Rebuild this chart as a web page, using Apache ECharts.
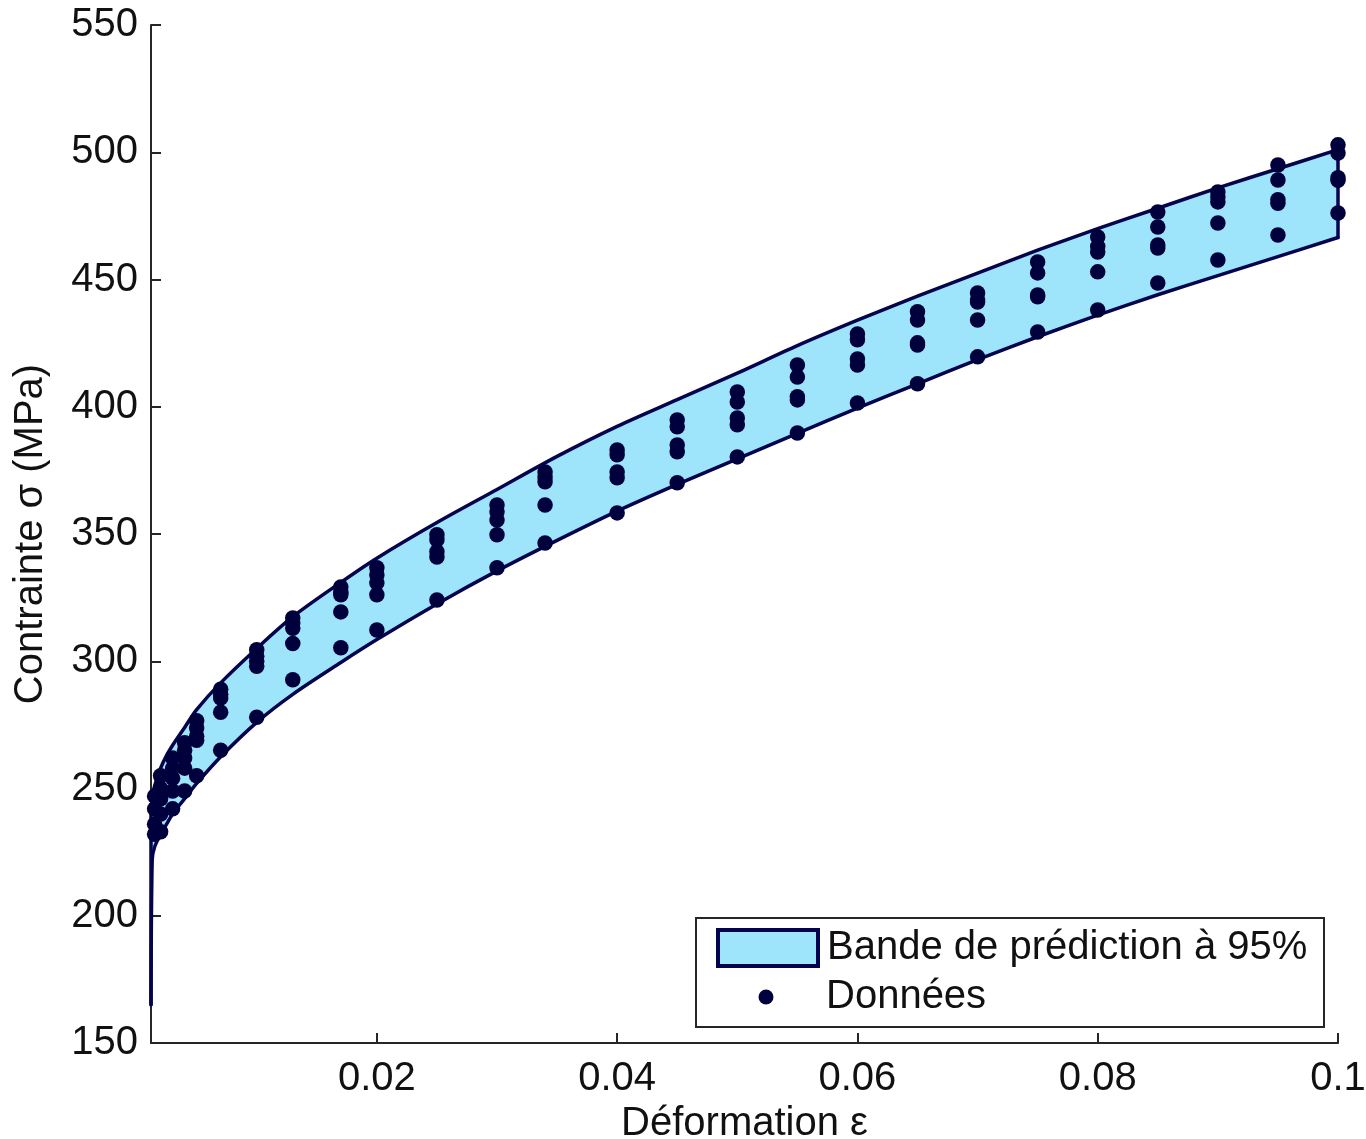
<!DOCTYPE html>
<html>
<head>
<meta charset="utf-8">
<script src="https://cdn.jsdelivr.net/npm/echarts@6/dist/echarts.min.js"></script>
<style>
  html, body { margin: 0; padding: 0; background: #ffffff; }
  #chart { width: 1366px; height: 1139px; }
</style>
</head>
<body>
<div id="chart"></div>
<script>
// Tick positions on the strain axis
const xTicks = [0.02, 0.04, 0.06, 0.08, 0.1];

// 95% prediction band: strain and the upper / lower stress limits (MPa)
const bandStrain = [0.0012, 0.0013, 0.0015, 0.002, 0.0025, 0.003, 0.004, 0.005, 0.007, 0.01, 0.013, 0.017, 0.02, 0.025, 0.03, 0.035, 0.04, 0.045, 0.05, 0.055, 0.06, 0.065, 0.07, 0.075, 0.08, 0.085, 0.09, 0.095, 0.1];
const bandUpper  = [242, 246, 251, 258, 263, 267, 274, 281, 291.5, 305, 317.5, 331, 340.5, 354.5, 367.5, 380.5, 392.3, 402.8, 413.2, 424, 434, 443.5, 452.5, 461.5, 470, 478, 486, 493.5, 501];
const bandLower  = [165, 222, 227, 232, 236, 240, 246, 252, 262.5, 276, 287, 299.5, 308.5, 322.5, 335.5, 347.5, 359, 369.5, 379.5, 389.5, 399.5, 409, 418.5, 427.5, 436, 444, 451.5, 459, 466.5];

// Measured points: strain levels and the stresses recorded at each level (MPa)
const strainLevels = [0.0015, 0.002, 0.003, 0.004, 0.005, 0.007, 0.01, 0.013, 0.017, 0.02, 0.025, 0.03, 0.034, 0.04, 0.045, 0.05, 0.055, 0.06, 0.065, 0.07, 0.075, 0.08, 0.085, 0.09, 0.095, 0.1];
const stressByLevel = [
  [247, 242, 236, 232],
  [255, 250, 246, 240, 233],
  [262, 258, 254, 249, 242],
  [268, 265, 262, 258, 249],
  [276.6, 273.8, 270.5, 269, 255],
  [289, 287, 285.6, 280, 265],
  [304.5, 302, 300, 298, 278],
  [317, 315, 313, 307, 292.7],
  [329.2, 327, 326.1, 319.4, 305.3],
  [336.7, 333.9, 330.8, 326.1, 312.3],
  [349.7, 347.7, 343, 341, 324.1],
  [361.4, 358.7, 355.5, 349.7, 336.7],
  [374.4, 372.4, 370.5, 361.4, 346.5],
  [383, 381.1, 374.4, 372.1, 358.3],
  [394.8, 392.1, 385, 382.3, 370.1],
  [405.8, 401.9, 395.6, 392.9, 380.3],
  [416.4, 411.7, 403.9, 402.7, 389.7],
  [428.6, 426.3, 418.8, 416.4, 401.5],
  [437.3, 434.1, 425.1, 424.3, 409],
  [444.7, 442, 441.2, 434.1, 419.6],
  [456.9, 452.6, 443.9, 443.2, 429.4],
  [466.7, 463, 460.8, 453, 438],
  [476.5, 470.6, 463.6, 462.4, 448.6],
  [484.4, 482.4, 480.5, 472.2, 457.7],
  [495, 489.1, 481.3, 480, 467.5],
  [502.9, 499.7, 490, 489, 476.1]
];

const scatterData = [];
strainLevels.forEach(function (e, i) {
  stressByLevel[i].forEach(function (s) { scatterData.push([e, s]); });
});

const FONT = '"Liberation Sans", Arial, Helvetica, sans-serif';
const FS = 40;
const NAVY = '#03034e';
const DOT = '#00003c';
const FILL = '#9ee4fb';
const AXIS = '#262626';
const BAND_NAME = 'Bande de prédiction à 95%';
const DATA_NAME = 'Données';

const chart = echarts.init(document.getElementById('chart'), null, { renderer: 'canvas' });

// Bounding box of a point list, used to keep the smoothed curve within its points
function bounds(points) {
  let minX = Infinity, minY = Infinity, maxX = -Infinity, maxY = -Infinity;
  points.forEach(function (p) {
    minX = Math.min(minX, p[0]); minY = Math.min(minY, p[1]);
    maxX = Math.max(maxX, p[0]); maxY = Math.max(maxY, p[1]);
  });
  return [[minX, minY], [maxX, maxY]];
}

// Band: filled area between the limits, the two limit curves, and the end edges
function renderBand(params, api) {
  const upper = bandStrain.map(function (e, i) { return api.coord([e, bandUpper[i]]); });
  const lower = bandStrain.map(function (e, i) { return api.coord([e, bandLower[i]]); });
  const last = bandStrain.length - 1;
  const stroke = { fill: null, stroke: NAVY, lineWidth: 3.5, lineJoin: 'round', lineCap: 'round' };
  return {
    type: 'group',
    children: [
      { type: 'polygon', shape: { points: upper.concat(lower.slice().reverse()) }, style: { fill: FILL } },
      { type: 'polyline', shape: { points: upper, smooth: 0.3, smoothConstraint: bounds(upper) }, style: stroke },
      { type: 'polyline', shape: { points: lower, smooth: 0.3, smoothConstraint: bounds(lower) }, style: stroke },
      { type: 'line', shape: { x1: upper[0][0], y1: upper[0][1], x2: lower[0][0], y2: lower[0][1] }, style: stroke },
      { type: 'line', shape: { x1: upper[last][0], y1: upper[last][1], x2: lower[last][0], y2: lower[last][1] }, style: stroke }
    ]
  };
}

const option = {
  animation: false,
  backgroundColor: '#ffffff',
  grid: { left: 151, right: 28, top: 25, bottom: 96, outerBoundsMode: 'none', containLabel: false },
  xAxis: {
    type: 'value',
    min: 0.0012,
    max: 0.1,
    name: 'Déformation ε',
    nameLocation: 'middle',
    nameGap: 59,
    nameTextStyle: { fontSize: FS, color: '#111', fontFamily: FONT },
    axisLine: { lineStyle: { color: AXIS, width: 2 } },
    axisTick: { inside: true, length: 10, customValues: xTicks, lineStyle: { color: AXIS, width: 2 } },
    axisLabel: { customValues: xTicks, fontSize: FS, color: '#111', margin: 16, fontFamily: FONT },
    splitLine: { show: false }
  },
  yAxis: {
    type: 'value',
    min: 150,
    max: 550,
    interval: 50,
    name: 'Contrainte σ (MPa)',
    nameLocation: 'middle',
    nameGap: 100,
    nameTextStyle: { fontSize: FS, color: '#111', fontFamily: FONT },
    axisLine: { show: true, lineStyle: { color: AXIS, width: 2 } },
    axisTick: { show: true, inside: true, length: 10, lineStyle: { color: AXIS, width: 2 } },
    axisLabel: { fontSize: FS, color: '#111', margin: 13, fontFamily: FONT },
    splitLine: { show: false }
  },
  legend: [
    {
      data: [{ name: BAND_NAME, icon: 'rect', itemStyle: { color: FILL, borderColor: NAVY, borderWidth: 4 } }],
      left: 716, top: 928, padding: 0,
      itemWidth: 100, itemHeight: 36,
      selectedMode: false, z: 10,
      textStyle: { fontSize: FS, color: '#111', fontFamily: FONT, padding: [0, 0, 0, 4] }
    },
    {
      data: [{ name: DATA_NAME, icon: 'circle', itemStyle: { color: DOT, opacity: 1 } }],
      left: 758.5, top: 977, padding: 0,
      itemWidth: 15, itemHeight: 15,
      selectedMode: false, z: 10,
      textStyle: { fontSize: FS, color: '#111', fontFamily: FONT, padding: [0, 0, 0, 47.5] }
    }
  ],
  graphic: [
    {
      type: 'rect', left: 695, top: 917, z: 5,
      shape: { width: 628, height: 109 },
      style: { fill: '#ffffff', stroke: AXIS, lineWidth: 2 }
    }
  ],
  series: [
    {
      type: 'custom',
      name: BAND_NAME,
      renderItem: renderBand,
      data: [[0.05, 400]],
      itemStyle: { color: FILL },
      z: 2,
      silent: true
    },
    {
      type: 'scatter',
      name: DATA_NAME,
      data: scatterData,
      symbol: 'circle',
      symbolSize: 15.5,
      itemStyle: { color: DOT, opacity: 1 },
      z: 3,
      silent: true
    }
  ]
};

chart.setOption(option);
</script>
</body>
</html>
